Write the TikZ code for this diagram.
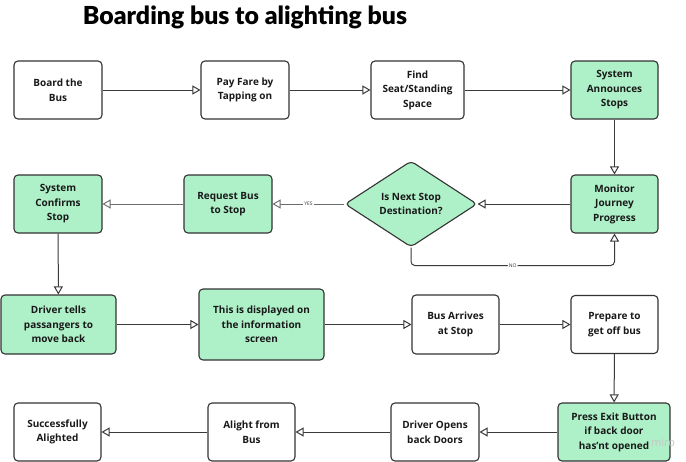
\documentclass[tikz,border=0pt]{standalone}
\usepackage{fontspec}
\setmainfont{Open Sans}
\newfontfamily\titlefont{Lato}[BoldFont={Lato Black}]
\usetikzlibrary{arrows.meta,shapes.geometric,calc}
\definecolor{boxgreen}{HTML}{AEF0C8}
\definecolor{edgec}{HTML}{333333}
\definecolor{linec}{HTML}{3A3A3A}
\begin{document}
\begin{tikzpicture}[x=1pt,y=-1pt,
  box/.style={draw=edgec, line width=1.1pt, rounded corners=4pt, fill=white,
    align=center, inner sep=0pt, text=black!90,
    font=\bfseries\fontsize{10}{14.5}\selectfont},
  gbox/.style={box, fill=boxgreen},
  sz/.style 2 args={minimum width=#1pt, minimum height=#2pt},
  arr/.style={draw=linec, line width=1pt,
    -{Triangle[length=8pt,width=9pt,fill=white,line width=1pt]}},
  thinarr/.style={draw=linec!75, line width=0.8pt,
    -{Triangle[length=8pt,width=9pt,fill=white,line width=0.9pt]}},
  lbl/.style={fill=white, inner sep=1pt, font=\fontsize{5}{5}\selectfont, text=black!80}
]
\useasboundingbox (0,0) rectangle (686,461);
\fill[white] (0,0) rectangle (686,461);

\node[anchor=base] (title) at (245,24)
  {\resizebox{324pt}{!}{\titlefont\bfseries Boarding bus to alighting bus}};

% row 1
\node[box, sz={88}{58}] (b1) at (58,90) {Board the\\Bus};
\node[box, sz={88}{58}] (b2) at (245,90) {Pay Fare by\\Tapping on};
\node[box, sz={93}{58}] (b3) at (417.5,90) {Find\\Seat/Standing\\Space};
\node[gbox, sz={87}{58}] (b4) at (614.5,90) {System\\Announces\\Stops};

% row 2
\node[gbox, sz={87}{58}] (b5) at (614.5,204) {Monitor\\Journey\\Progress};
\node[diamond, draw=edgec, line width=1.1pt, fill=boxgreen, rounded corners=4pt,
      inner sep=0pt, minimum width=132pt, minimum height=86pt, aspect=1.535,
      align=center, text=black!90, font=\bfseries\fontsize{10}{14.5}\selectfont]
      (dia) at (411,204) {Is Next Stop\\Destination?};
\node[gbox, sz={88}{58}] (b6) at (228,204) {Request Bus\\to Stop};
\node[gbox, sz={88}{58}] (b7) at (58,204) {System\\Confirms\\Stop};

% row 3
\node[gbox, sz={115}{59}] (b8) at (58.5,324.5) {Driver tells\\passangers to\\move back};
\node[gbox, sz={125}{71}] (b9) at (261.5,324.5) {This is displayed on\\the information\\screen};
\node[box, sz={87}{59}] (b10) at (455.5,324.5) {Bus Arrives\\at Stop};
\node[box, sz={87}{58}] (b11) at (614.5,324.5) {Prepare to\\get off bus};

% row 4
\node[gbox, sz={112}{58}] (b12) at (614,432) {Press Exit Button\\if back door\\has'nt opened};
\node[box, sz={88}{58}] (b13) at (435,432) {Driver Opens\\back Doors};
\node[box, sz={87}{58}] (b14) at (251.5,432) {Alight from\\Bus};
\node[box, sz={87}{58}] (b15) at (57.5,432) {Successfully\\Alighted};

\node[anchor=base west, inner sep=0pt, text=gray!45, font=\fontsize{11}{11}\selectfont] (wm) at (651,446) {miro};

% connectors
\draw[arr] (b1) -- (b2);
\draw[arr] (b2) -- (b3);
\draw[arr] (b3) -- (b4);
\draw[arr] (b4) -- (b5);
\draw[arr] (b5) -- (dia);
\draw[thinarr] (dia) -- node[lbl] {YES} (b6);
\draw[thinarr] (b6) -- (b7);
\draw[arr] (b7) -- (b8);
\draw[arr] (b8) -- (b9);
\draw[arr] (b9) -- (b10);
\draw[arr] (b10) -- (b11);
\draw[arr] (b11) -- (b12);
\draw[arr] (b12) -- (b13);
\draw[arr] (b13) -- (b14);
\draw[arr] (b14) -- (b15);
\draw[arr, rounded corners=4pt] (dia.south) -- ++(0,18) coordinate (nocorner)
  -| node[lbl, pos=0.25] {NO} (b5.south);
\end{tikzpicture}
\end{document}
